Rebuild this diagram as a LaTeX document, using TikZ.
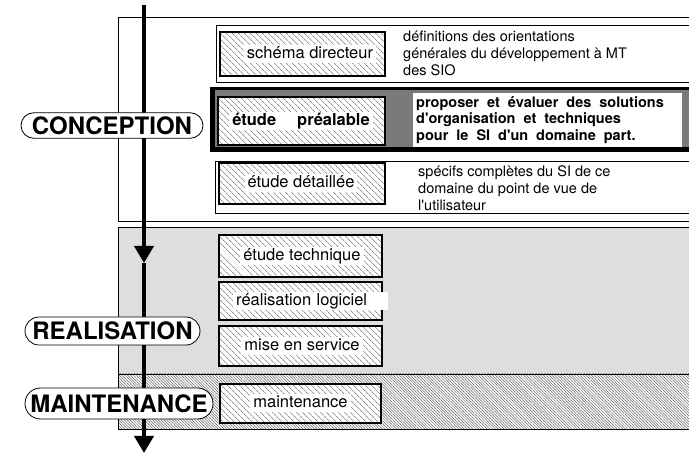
\documentclass[tikz,border=0pt]{standalone}
\usepackage{fontspec}
\setmainfont{TeX Gyre Heros}
\usetikzlibrary{positioning,arrows.meta,shapes.misc,patterns.meta}

\definecolor{realgray}{HTML}{DEDEDE}
\definecolor{prealgray}{HTML}{7A7A7A}

\begin{document}
\begin{tikzpicture}[
  x=1pt, y=-1pt,
  phase/.style={draw, rounded rectangle, fill=white, line width=0.8pt, inner sep=0pt, font=\fontsize{24}{24}\selectfont\bfseries},
  task/.style={draw, line width=1.5pt, preaction={fill=white}, pattern={Lines[angle=-45,distance=4pt,line width=0.55pt]}, pattern color=black!65, inner sep=0pt},
  tasklabel/.style={fill=white, inner xsep=3pt, inner ysep=1pt, text height=12.5pt, text depth=3.5pt, font=\fontsize{16.5}{18}\selectfont},
  note/.style={align=left, inner sep=0pt, font=\fontsize{14.5}{17}\selectfont},
  keynote/.style={fill=white, text width=263pt, align=left, inner xsep=3pt, minimum height=54pt, font=\fontsize{14.5}{16.5}\selectfont\bfseries},
  arrow/.style={-{Triangle[length=17pt,width=19pt]}, line width=4pt}
]
\useasboundingbox (0,0) rectangle (689,454);
\clip (0,0) rectangle (689,454);

% Phase panels
\draw[line width=0.8pt] (118,17) rectangle (700,221);
\draw[line width=0.8pt, fill=realgray] (118,227) rectangle (700,374);
\draw[line width=0.8pt, preaction={fill=white}, pattern={Lines[angle=-45,distance=2pt,line width=0.5pt]}, pattern color=black!60] (118,374) rectangle (700,429);

% Conception rows
\draw[line width=0.8pt, fill=white] (216,25) rectangle (700,82);
\fill[black] (210,87) rectangle (700,152);
\fill[prealgray] (215,90.5) rectangle (700,147);
\draw[line width=0.8pt, fill=white] (215,161) rectangle (700,213);

% Flow of the phases
\coordinate (top) at (144,5);
\coordinate (mid) at (144,263);
\coordinate (bot) at (144,453);
\draw[arrow] (top) -- (mid);
\draw[arrow] (mid) -- (bot);

% Phases
\node[phase, minimum width=182pt, minimum height=25.5pt] (conception) at (112,125.5) {CONCEPTION};
\node[phase, minimum width=175pt, minimum height=28pt] (realisation) at (112.5,331) {REALISATION};
\node[phase, minimum width=188pt, minimum height=31pt] (maintenanceP) at (119,403.5) {MAINTENANCE};

% Steps: conception
\node[task, minimum width=165pt, minimum height=44pt] (schema) at (302.5,54) {};
\node[tasklabel] (schemaL) at (310,54) {schéma directeur};
\node[note, anchor=west] (schemaN) at (403,53) {définitions des orientations\\générales du développement à MT\\des SIO};

\node[task, minimum width=167pt, minimum height=48pt] (prealable) at (301.5,121) {};
\node[tasklabel, font=\fontsize{16.5}{18}\selectfont\bfseries] (prealableL) at (301,121) {étude\hspace{21pt}préalable};
\node[keynote, anchor=west] (prealableN) at (413,120) {\spaceskip=8pt\relax proposer et évaluer des solutions\\d\textquotesingle organisation et techniques\\pour le SI d\textquotesingle un domaine part.};

\node[task, minimum width=166pt, minimum height=41pt] (detaillee) at (302,183.5) {};
\node[tasklabel] (detailleeL) at (301,183.5) {étude détaillée};
\node[note, anchor=west] (detailleeN) at (418,188) {spécifs complètes du SI de ce\\domaine du point de vue de\\l\textquotesingle utilisateur};

% Steps: realisation
\node[task, minimum width=163pt, minimum height=42pt] (technique) at (300.5,256) {};
\node[tasklabel] (techniqueL) at (302,256) {étude technique};

\node[task, minimum width=163pt, minimum height=38pt] (logiciel) at (300.5,301) {};
\node[tasklabel, anchor=west, text width=149pt] (logicielL) at (233,301) {réalisation logiciel};

\node[task, minimum width=163pt, minimum height=40pt] (service) at (300.5,346) {};
\node[tasklabel] (serviceL) at (302,346) {mise en service};

% Steps: maintenance
\node[task, minimum width=161pt, minimum height=39pt] (maintenance) at (300.5,403.5) {};
\node[tasklabel] (maintenanceL) at (300.5,403.5) {maintenance};

\end{tikzpicture}
\end{document}
